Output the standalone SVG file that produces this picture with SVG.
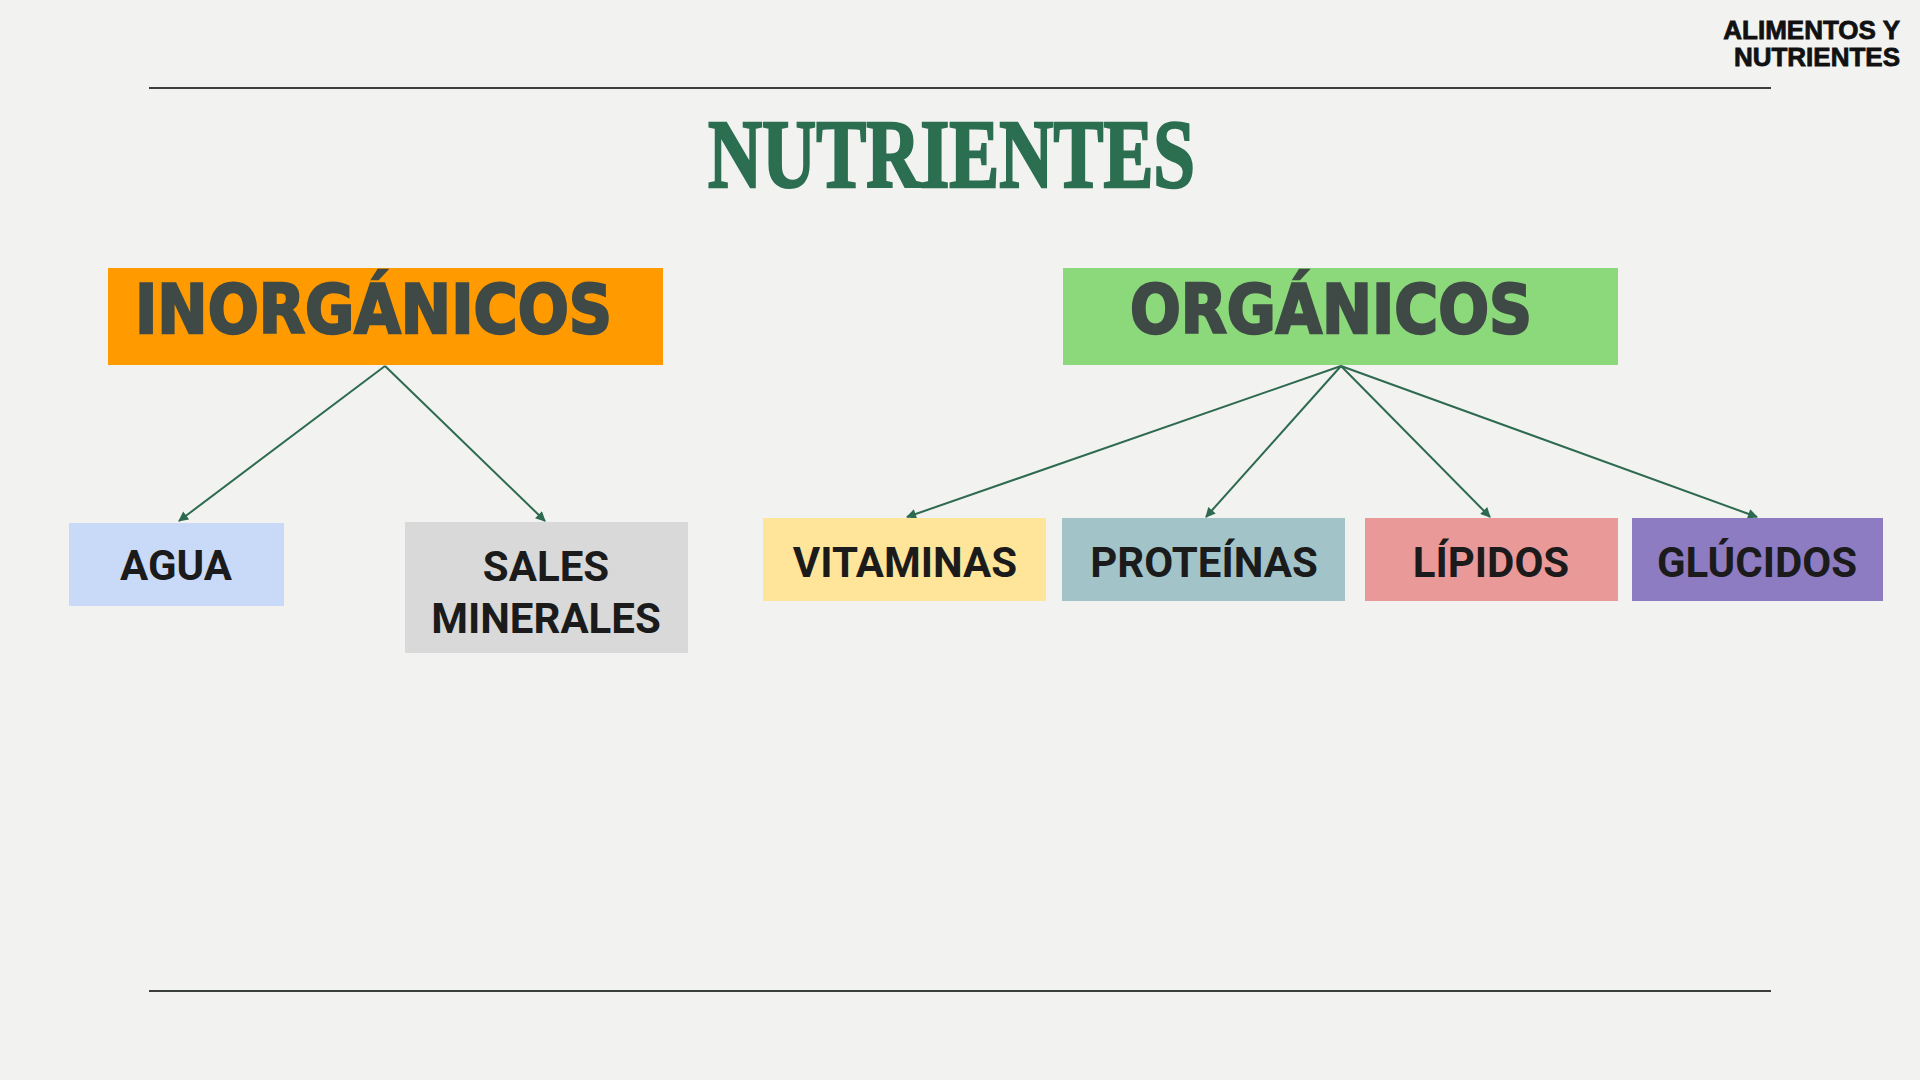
<svg xmlns="http://www.w3.org/2000/svg" width="1920" height="1080" viewBox="0 0 1920 1080">
<style>
.lbl{font-family:Roboto,"Liberation Sans",sans-serif;font-weight:700;font-size:42px;fill:#1b1b1b;text-anchor:middle}
.head{font-family:"DejaVu Sans","Liberation Sans",sans-serif;font-weight:700;font-size:68px;fill:#3f4945;stroke:#3f4945;stroke-width:2.5}
.conn{stroke:#2d6a4f;stroke-width:2;fill:none;marker-end:url(#ah)}
.rule{stroke:#3a3f3c;stroke-width:2}
</style>
<defs>
<marker id="ah" viewBox="0 0 10 10" refX="9" refY="5" markerWidth="11" markerHeight="10" markerUnits="userSpaceOnUse" orient="auto">
<path d="M0,0 L10,5 L0,10 z" fill="#2d6a4f"/>
</marker>
</defs>
<rect width="1920" height="1080" fill="#f2f2f1"/>
<line class="rule" x1="149" y1="88" x2="1771" y2="88"/>
<line class="rule" x1="149" y1="991" x2="1771" y2="991"/>
<g id="brand" font-family="'Liberation Sans',Arial,sans-serif" font-weight="700" font-size="26" fill="#111" stroke="#111" stroke-width="0.8" text-anchor="end">
<text x="1900" y="39">ALIMENTOS Y</text>
<text x="1900" y="66">NUTRIENTES</text>
</g>
<g id="title">
<text x="708" y="187" textLength="487" lengthAdjust="spacingAndGlyphs" font-family="'Liberation Serif','Times New Roman',serif" font-weight="700" font-size="98" fill="#2b6e50" stroke="#2b6e50" stroke-width="2.5">NUTRIENTES</text>
</g>
<g id="connectors">
<line class="conn" x1="385" y1="366" x2="179" y2="521"/>
<line class="conn" x1="385" y1="366" x2="545" y2="521"/>
<line class="conn" x1="1341" y1="366" x2="907" y2="517"/>
<line class="conn" x1="1341" y1="366" x2="1206" y2="517"/>
<line class="conn" x1="1341" y1="366" x2="1490" y2="517"/>
<line class="conn" x1="1341" y1="366" x2="1757" y2="517"/>
</g>
<g id="inorganicos">
<rect x="108" y="268" width="555" height="97" fill="#ff9a00"/>
<text class="head" x="135" y="333" textLength="477" lengthAdjust="spacingAndGlyphs">INORGÁNICOS</text>
</g>
<g id="organicos">
<rect x="1063" y="268" width="555" height="97" fill="#8cd97b"/>
<text class="head" x="1130" y="333" textLength="402" lengthAdjust="spacingAndGlyphs">ORGÁNICOS</text>
</g>
<g id="agua">
<rect x="69" y="523" width="215" height="83" fill="#c9daf8"/>
<text class="lbl" x="176" y="580">AGUA</text>
</g>
<g id="sales">
<rect x="405" y="522" width="283" height="131" fill="#d9d9d9"/>
<text class="lbl" x="546" y="581">SALES</text>
<text class="lbl" x="546" y="633">MINERALES</text>
</g>
<g id="vitaminas">
<rect x="763" y="518" width="283" height="83" fill="#ffe599"/>
<text class="lbl" x="905" y="577">VITAMINAS</text>
</g>
<g id="proteinas">
<rect x="1062" y="518" width="283" height="83" fill="#a2c4c9"/>
<text class="lbl" x="1204" y="577">PROTEÍNAS</text>
</g>
<g id="lipidos">
<rect x="1365" y="518" width="253" height="83" fill="#ea9999"/>
<text class="lbl" x="1491" y="577">LÍPIDOS</text>
</g>
<g id="glucidos">
<rect x="1632" y="518" width="251" height="83" fill="#8e7cc3"/>
<text class="lbl" x="1757" y="577">GLÚCIDOS</text>
</g>
</svg>
